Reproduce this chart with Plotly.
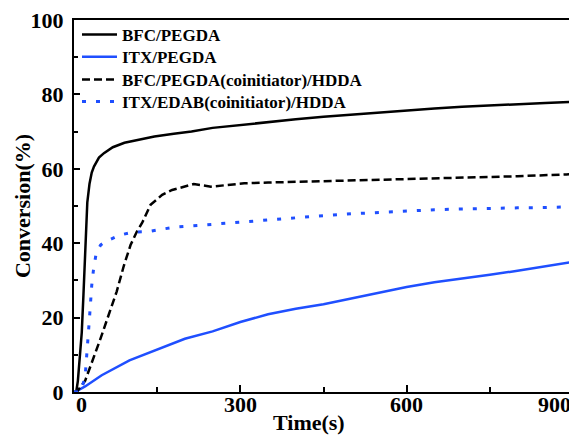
import plotly.graph_objects as go

# BFC/PEGDA (black solid)
t_bfc = [0, 4, 7, 10, 14, 17, 20, 24, 28, 32, 36, 45, 54, 70, 91, 120, 145, 180, 212, 250, 300, 350,
         400, 450, 500, 550, 600, 650, 700, 750, 800, 850, 900]
c_bfc = [0, 0, 3, 8, 16, 26, 36, 51, 56, 59, 60.6, 63, 64.2, 65.8, 67, 68, 68.7, 69.4, 70, 71, 71.8, 72.6,
         73.3, 74, 74.6, 75.2, 75.8, 76.2, 76.7, 77.1, 77.4, 77.7, 78]

# ITX/PEGDA (blue solid)
t_itx = [0, 2, 20, 50, 100, 150, 200, 250, 300, 350, 400, 450, 500, 550, 600, 650, 700, 750, 800, 850, 900]
c_itx = [0, 0, 1.5, 4.5, 8.5, 11.5, 14.3, 16.3, 18.8, 20.9, 22.4, 23.6, 25.2, 26.7, 28.2, 29.5, 30.4,
         31.5, 32.6, 33.8, 35]

# BFC/PEGDA(coinitiator)/HDDA (black dashed)
t_bfc_co = [0, 5, 20, 35, 47, 62, 77, 90, 102, 113, 123, 138, 159, 177, 200, 216, 247, 275, 307, 350,
            400, 450, 513, 600, 700, 800, 888, 900]
c_bfc_co = [0, 0, 3, 9, 14, 20.5, 27, 34, 39.5, 43, 45.5, 50.3, 53, 54.3, 55.3, 55.9, 55.2, 55.6, 56.1,
            56.3, 56.5, 56.7, 56.8, 57.2, 57.6, 58, 58.5, 58.6]

# ITX/EDAB(coinitiator)/HDDA (blue dotted)
t_itx_co = [0, 12, 20, 24, 28, 32, 35, 40, 48, 56, 83, 107, 134, 160, 186, 234, 283, 332, 400, 450, 500,
            550, 600, 650, 700, 750, 800, 850, 900]
c_itx_co = [0, 0, 4, 11, 20, 28.7, 32.7, 37.3, 39.5, 40.4, 42.2, 43, 43.1, 43.8, 44.4, 44.9, 45.5, 46,
            46.8, 47.4, 47.9, 48.3, 48.8, 49, 49.2, 49.4, 49.5, 49.6, 49.8]

names = ["BFC/PEGDA", "ITX/PEGDA", "BFC/PEGDA(coinitiator)/HDDA", "ITX/EDAB(coinitiator)/HDDA"]

x_ticks = [0, 300, 600, 900]
y_ticks = [0, 20, 40, 60, 80, 100]

FONT = "Liberation Serif"
BLUE = "#1f4fff"

fig = go.Figure()
fig.add_trace(go.Scatter(x=t_bfc, y=c_bfc, mode="lines", name=names[0], legend="legend",
                         line=dict(color="black", width=2.5)))
fig.add_trace(go.Scatter(x=t_itx, y=c_itx, mode="lines", name=names[1], legend="legend2",
                         line=dict(color=BLUE, width=2.5)))
fig.add_trace(go.Scatter(x=t_bfc_co, y=c_bfc_co, mode="lines", name=names[2], legend="legend3",
                         line=dict(color="black", width=2.5, dash="8px,4px")))
fig.add_trace(go.Scatter(x=t_itx_co, y=c_itx_co, mode="lines", name=names[3], legend="legend4",
                         line=dict(color=BLUE, width=3, dash="4px,10px")))

tick_font = dict(family=FONT, size=22, color="black", weight="bold")
title_font = dict(family=FONT, size=22, color="black", weight="bold")
legend_font = dict(family=FONT, size=17, color="black", weight="bold")

axis_common = dict(
    showgrid=False, zeroline=False, showline=True, linecolor="black", linewidth=2,
    mirror=True, ticks="inside", tickcolor="black", tickwidth=1.5, tickfont=tick_font,
    automargin=False, ticklabeloverflow="allow",
)

fig.update_xaxes(
    range=[0, 900], tickvals=x_ticks, showticklabels=False, ticklen=7,
    minor=dict(dtick=150, ticks="inside", ticklen=5, tickcolor="black", tickwidth=1.5),
    **axis_common,
)
fig.update_yaxes(
    range=[0, 100], tickvals=y_ticks, ticktext=[str(v) for v in y_ticks], ticklen=6,
    ticklabelstandoff=4,
    minor=dict(dtick=10, ticks="inside", ticklen=4, tickcolor="black", tickwidth=1.5),
    **axis_common,
)

# x tick labels (end labels kept inside the page like the reference)
anchors = {0: "left", 300: "center", 600: "center", 900: "right"}
for v in x_ticks:
    fig.add_annotation(x=v, xref="x", y=0.006, yref="paper", text=str(v), showarrow=False,
                       xanchor=anchors[v], yanchor="top", font=tick_font)
fig.add_annotation(x=0.47, xref="paper", y=-0.043, yref="paper", text="Time(s)", showarrow=False,
                   xanchor="center", yanchor="top", font=title_font)
fig.add_annotation(x=-0.104, xref="paper", y=0.5, yref="paper", text="Conversion(%)", showarrow=False,
                   textangle=-90, xanchor="center", yanchor="middle", font=title_font)

leg_y = [0.96, 0.90, 0.839, 0.78]
leg_common = dict(x=0.006, xanchor="left", yanchor="middle", font=legend_font,
                  bgcolor="rgba(0,0,0,0)", itemwidth=35)

# the page body adds an 8px offset, so margins are reduced by 8px on left/top
fig.update_layout(
    width=577, height=438,
    margin=dict(l=66, r=12, t=12, b=54, autoexpand=False),
    paper_bgcolor="white", plot_bgcolor="white",
    showlegend=True,
    legend=dict(y=leg_y[0], **leg_common),
    legend2=dict(y=leg_y[1], **leg_common),
    legend3=dict(y=leg_y[2], **leg_common),
    legend4=dict(y=leg_y[3], **leg_common),
)

fig.write_html("out.html")
